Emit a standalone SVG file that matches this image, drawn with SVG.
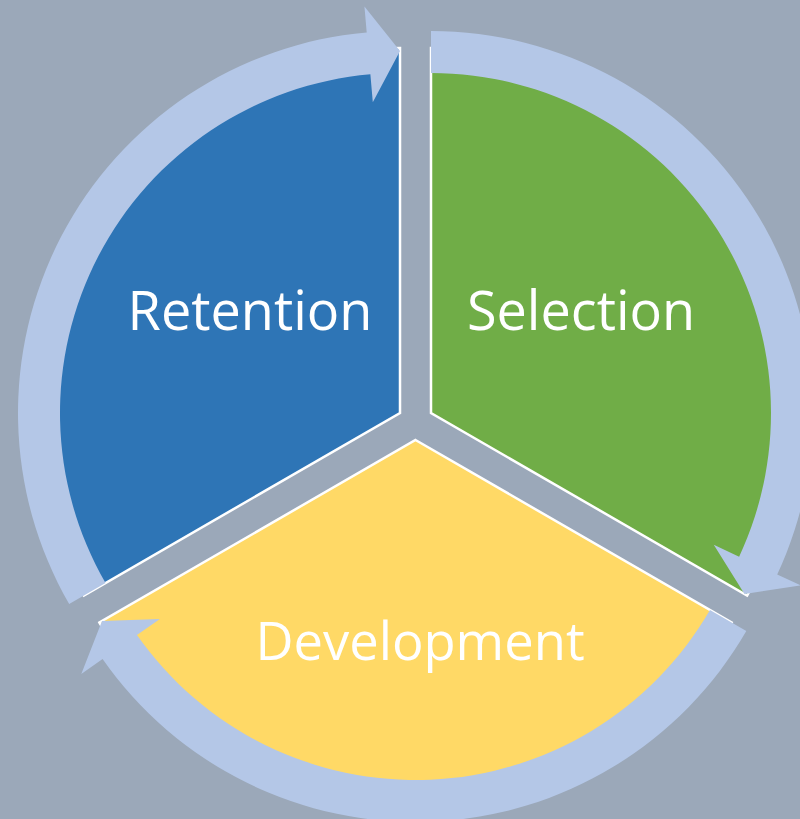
<svg xmlns="http://www.w3.org/2000/svg" width="800" height="819" viewBox="0 0 800 819">
  <style>
    .wedge { stroke: #FFFFFF; stroke-width: 2.5; stroke-linejoin: miter; }
    .label { font-family: "Open Sans", "Liberation Sans", sans-serif; font-size: 54px; fill: #FFFFFF; text-anchor: middle; }
    .arrow { fill: #B4C7E7; stroke: none; }
  </style>
  <rect x="0" y="0" width="800" height="819" fill="#9BA8B9"/>
  <g id="retention">
    <path class="wedge" fill="#2E75B6" d="M400,413 L400,48 A365,365 0 0 0 83.90,595.5 Z"/>
    <text class="label" x="250" y="330">Retention</text>
  </g>
  <g id="selection">
    <path class="wedge" fill="#70AD47" d="M431,413 L431,48 A365,365 0 0 1 747.10,595.5 Z"/>
    <text class="label" x="581" y="330">Selection</text>
  </g>
  <g id="development">
    <path class="wedge" fill="#FFD966" d="M415.5,440 L731.60,622.5 A365,365 0 0 1 99.40,622.5 Z"/>
    <text class="label" x="420" y="660" style="font-size:52.5px">Development</text>
  </g>
  <g id="connectors">
    <path class="arrow" d="M69.18,604 A382,382 0 0 1 366.71,32.45 L364.44,6.55 L400,51 L372.81,102.19 L370.37,74.29 A340,340 0 0 0 105.55,583 Z"/>
    <path class="arrow" d="M431,31 A382,382 0 0 1 777.21,574.44 L800.77,585.43 L744.50,594 L713.77,544.86 L739.14,556.69 A340,340 0 0 0 431,73 Z"/>
    <path class="arrow" d="M746.32,631 A382,382 0 0 1 102.58,659.11 L81.29,674.02 L102,621 L159.92,618.96 L136.99,635.02 A340,340 0 0 0 709.95,610 Z"/>
  </g>
</svg>
